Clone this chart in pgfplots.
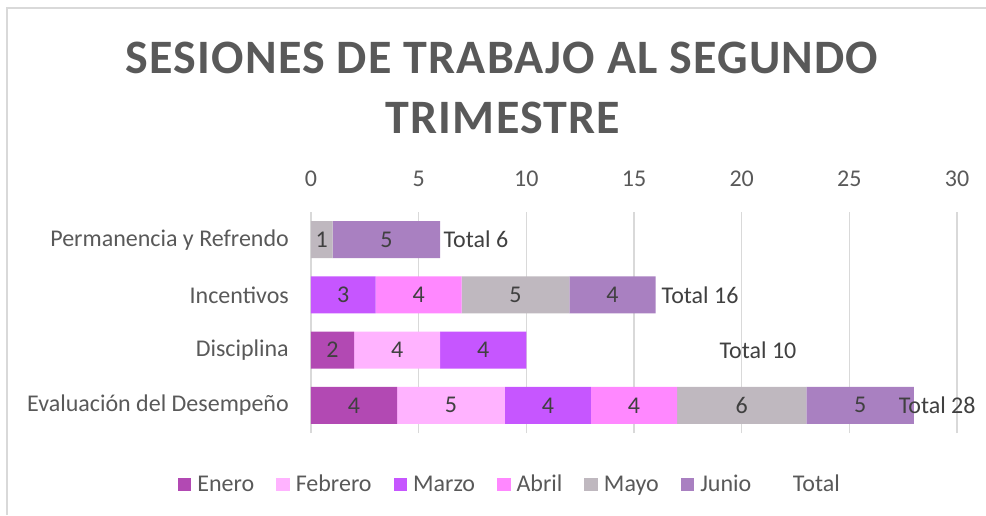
\documentclass[border=0pt]{standalone}
\usepackage{fontspec}
\setmainfont{Carlito}
\usepackage{pgfplots}
\pgfplotsset{compat=1.18}
\definecolor{cEne}{HTML}{B249B3}
\definecolor{cFeb}{HTML}{FFB3FF}
\definecolor{cMar}{HTML}{C656FF}
\definecolor{cAbr}{HTML}{FF88FF}
\definecolor{cMay}{HTML}{BFB8BF}
\definecolor{cJun}{HTML}{A980C1}
\definecolor{cTxt}{HTML}{595959}
\definecolor{cLab}{HTML}{404040}
\definecolor{cBorder}{HTML}{D9D9D9}
\definecolor{cGrid}{HTML}{D9D9D9}
\newcommand{\lblfont}{\fontsize{24}{28}\selectfont}
\begin{document}
\begin{tikzpicture}
\path[use as bounding box] (0pt,0pt) rectangle (986pt,-515pt);
\draw[cBorder, line width=1.2pt] (7pt,-515pt) -- (7pt,-8pt) -- (986pt,-8pt);
\node[anchor=base, font=\fontsize{48}{58}\selectfont\bfseries\addfontfeature{LetterSpace=2.4}, text=cTxt, inner sep=0pt] at (502pt,-73pt) {SESIONES DE TRABAJO AL SEGUNDO};
\node[anchor=base, font=\fontsize{48}{58}\selectfont\bfseries\addfontfeature{LetterSpace=2.4}, text=cTxt, inner sep=0pt] at (503pt,-133pt) {TRIMESTRE};
\begin{axis}[
  at={(311pt,-433pt)}, anchor=south west,
  width=646pt, height=221pt, scale only axis,
  xbar stacked, bar width=37pt,
  xmin=0, xmax=30, ymin=-0.5, ymax=3.5,
  axis line style={draw=none},
  xtick={0,5,...,30},
  xticklabel pos=upper,
  major tick length=0pt,
  xmajorgrids, grid style={cGrid, line width=1.1pt},
  ytick={0,1,2,3},
  yticklabels={Evaluación del Desempeño, Disciplina, Incentivos, Permanencia y Refrendo},
  /pgf/number format/assume math mode=true,
  tick label style={font=\lblfont, text=cTxt},
  xticklabel style={anchor=south, inner sep=0pt, yshift=25pt},
  yticklabel style={anchor=east, inner sep=0pt, xshift=-22pt},
  legend image code/.code={\fill[#1,draw=none] (0pt,-6.5pt) rectangle (13.5pt,6.5pt);},
  legend style={at={(0.307,-0.231)}, anchor=center, draw=none, fill=none,
    font=\lblfont, text=cTxt, legend columns=7,
    nodes={inner sep=1pt},
    /tikz/every odd column/.append style={column sep=5pt},
    /tikz/every even column/.append style={column sep=21pt}},
]
\addplot[fill=cEne, draw=none] coordinates {(4,0) (2,1) (0,2) (0,3)};
\addlegendentry{Enero}
\addplot[fill=cFeb, draw=none] coordinates {(5,0) (4,1) (0,2) (0,3)};
\addlegendentry{Febrero}
\addplot[fill=cMar, draw=none] coordinates {(4,0) (4,1) (3,2) (0,3)};
\addlegendentry{Marzo}
\addplot[fill=cAbr, draw=none] coordinates {(4,0) (0,1) (4,2) (0,3)};
\addlegendentry{Abril}
\addplot[fill=cMay, draw=none] coordinates {(6,0) (0,1) (5,2) (1,3)};
\addlegendentry{Mayo}
\addplot[fill=cJun, draw=none] coordinates {(5,0) (0,1) (4,2) (5,3)};
\addlegendentry{Junio}
\addlegendimage{draw=none, fill=white}
\addlegendentry{Total}
\end{axis}
\begin{axis}[
  at={(311pt,-433pt)}, anchor=south west,
  width=646pt, height=221pt, scale only axis,
  xmin=0, xmax=30, ymin=-0.5, ymax=3.5,
  hide axis,
]
\addplot[draw=none, mark=none, nodes near coords, point meta=explicit symbolic,
  every node near coord/.style={anchor=center, font=\lblfont, text=cLab}]
  coordinates {
  (2,0) [4] (6.5,0) [5] (11,0) [4] (15,0) [4] (20,0) [6] (25.5,0) [5]
  (1,1) [2] (4,1) [4] (8,1) [4]
  (1.5,2) [3] (5,2) [4] (9.5,2) [5] (14,2) [4]
  (0.5,3) [1] (3.5,3) [5]
  (29.08,0) [Total 28] (20.76,1) [Total 10] (18.07,2) [Total 16] (7.66,3) [Total 6]
  };
\end{axis}
\end{tikzpicture}
\end{document}
